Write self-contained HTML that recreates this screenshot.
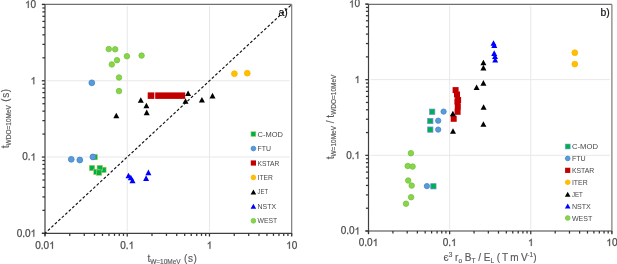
<!DOCTYPE html>
<html><head><meta charset="utf-8"><style>
html,body{margin:0;padding:0;background:#fff;width:617px;height:264px;overflow:hidden}
svg{display:block;will-change:transform}
text{font-family:"Liberation Sans",sans-serif}
.tk{font-size:10px;fill:#4d4d4d;stroke:#4d4d4d;stroke-width:0.25px}
.lg{font-size:7.8px;fill:#474747}
.pl{font-size:10.4px;fill:#111;stroke:#111;stroke-width:0.2px}
.tt{font-size:10px;fill:#595959;stroke:#595959;stroke-width:0.15px}
.sb{font-size:6.5px}
.sp{font-size:6.5px}
</style></head><body>
<svg width="617" height="264" viewBox="0 0 617 264">
<line x1="127.23" y1="5.90" x2="127.23" y2="231.30" stroke="#e8e8e8" stroke-width="1"/>
<line x1="47.00" y1="157.03" x2="289.70" y2="157.03" stroke="#e8e8e8" stroke-width="1"/>
<line x1="209.47" y1="5.90" x2="209.47" y2="231.30" stroke="#e8e8e8" stroke-width="1"/>
<line x1="47.00" y1="80.77" x2="289.70" y2="80.77" stroke="#e8e8e8" stroke-width="1"/>
<line x1="42.00" y1="4.40" x2="291.70" y2="4.40" stroke="#707070" stroke-width="1.1"/>
<line x1="291.70" y1="4.40" x2="291.70" y2="235.80" stroke="#707070" stroke-width="1.1"/>
<line x1="45.00" y1="4.40" x2="45.00" y2="235.80" stroke="#404040" stroke-width="1.2"/>
<line x1="42.00" y1="233.30" x2="291.70" y2="233.30" stroke="#404040" stroke-width="1.2"/>
<line x1="41.80" y1="233.30" x2="45.00" y2="233.30" stroke="#333" stroke-width="1.25"/>
<line x1="45.00" y1="233.30" x2="45.00" y2="236.50" stroke="#333" stroke-width="1.25"/>
<line x1="42.40" y1="210.34" x2="45.00" y2="210.34" stroke="#333" stroke-width="1.25"/>
<line x1="69.75" y1="233.30" x2="69.75" y2="235.90" stroke="#333" stroke-width="1.25"/>
<line x1="42.40" y1="196.91" x2="45.00" y2="196.91" stroke="#333" stroke-width="1.25"/>
<line x1="84.24" y1="233.30" x2="84.24" y2="235.90" stroke="#333" stroke-width="1.25"/>
<line x1="42.40" y1="187.38" x2="45.00" y2="187.38" stroke="#333" stroke-width="1.25"/>
<line x1="94.51" y1="233.30" x2="94.51" y2="235.90" stroke="#333" stroke-width="1.25"/>
<line x1="42.40" y1="179.99" x2="45.00" y2="179.99" stroke="#333" stroke-width="1.25"/>
<line x1="102.48" y1="233.30" x2="102.48" y2="235.90" stroke="#333" stroke-width="1.25"/>
<line x1="42.40" y1="173.95" x2="45.00" y2="173.95" stroke="#333" stroke-width="1.25"/>
<line x1="108.99" y1="233.30" x2="108.99" y2="235.90" stroke="#333" stroke-width="1.25"/>
<line x1="42.40" y1="168.85" x2="45.00" y2="168.85" stroke="#333" stroke-width="1.25"/>
<line x1="114.50" y1="233.30" x2="114.50" y2="235.90" stroke="#333" stroke-width="1.25"/>
<line x1="42.40" y1="164.42" x2="45.00" y2="164.42" stroke="#333" stroke-width="1.25"/>
<line x1="119.26" y1="233.30" x2="119.26" y2="235.90" stroke="#333" stroke-width="1.25"/>
<line x1="42.40" y1="160.52" x2="45.00" y2="160.52" stroke="#333" stroke-width="1.25"/>
<line x1="123.47" y1="233.30" x2="123.47" y2="235.90" stroke="#333" stroke-width="1.25"/>
<line x1="41.80" y1="157.03" x2="45.00" y2="157.03" stroke="#333" stroke-width="1.25"/>
<line x1="127.23" y1="233.30" x2="127.23" y2="236.50" stroke="#333" stroke-width="1.25"/>
<line x1="42.40" y1="134.07" x2="45.00" y2="134.07" stroke="#333" stroke-width="1.25"/>
<line x1="151.99" y1="233.30" x2="151.99" y2="235.90" stroke="#333" stroke-width="1.25"/>
<line x1="42.40" y1="120.64" x2="45.00" y2="120.64" stroke="#333" stroke-width="1.25"/>
<line x1="166.47" y1="233.30" x2="166.47" y2="235.90" stroke="#333" stroke-width="1.25"/>
<line x1="42.40" y1="111.12" x2="45.00" y2="111.12" stroke="#333" stroke-width="1.25"/>
<line x1="176.74" y1="233.30" x2="176.74" y2="235.90" stroke="#333" stroke-width="1.25"/>
<line x1="42.40" y1="103.73" x2="45.00" y2="103.73" stroke="#333" stroke-width="1.25"/>
<line x1="184.71" y1="233.30" x2="184.71" y2="235.90" stroke="#333" stroke-width="1.25"/>
<line x1="42.40" y1="97.69" x2="45.00" y2="97.69" stroke="#333" stroke-width="1.25"/>
<line x1="191.22" y1="233.30" x2="191.22" y2="235.90" stroke="#333" stroke-width="1.25"/>
<line x1="42.40" y1="92.58" x2="45.00" y2="92.58" stroke="#333" stroke-width="1.25"/>
<line x1="196.73" y1="233.30" x2="196.73" y2="235.90" stroke="#333" stroke-width="1.25"/>
<line x1="42.40" y1="88.16" x2="45.00" y2="88.16" stroke="#333" stroke-width="1.25"/>
<line x1="201.50" y1="233.30" x2="201.50" y2="235.90" stroke="#333" stroke-width="1.25"/>
<line x1="42.40" y1="84.26" x2="45.00" y2="84.26" stroke="#333" stroke-width="1.25"/>
<line x1="205.70" y1="233.30" x2="205.70" y2="235.90" stroke="#333" stroke-width="1.25"/>
<line x1="41.80" y1="80.77" x2="45.00" y2="80.77" stroke="#333" stroke-width="1.25"/>
<line x1="209.47" y1="233.30" x2="209.47" y2="236.50" stroke="#333" stroke-width="1.25"/>
<line x1="42.40" y1="57.81" x2="45.00" y2="57.81" stroke="#333" stroke-width="1.25"/>
<line x1="234.22" y1="233.30" x2="234.22" y2="235.90" stroke="#333" stroke-width="1.25"/>
<line x1="42.40" y1="44.38" x2="45.00" y2="44.38" stroke="#333" stroke-width="1.25"/>
<line x1="248.70" y1="233.30" x2="248.70" y2="235.90" stroke="#333" stroke-width="1.25"/>
<line x1="42.40" y1="34.85" x2="45.00" y2="34.85" stroke="#333" stroke-width="1.25"/>
<line x1="258.98" y1="233.30" x2="258.98" y2="235.90" stroke="#333" stroke-width="1.25"/>
<line x1="42.40" y1="27.46" x2="45.00" y2="27.46" stroke="#333" stroke-width="1.25"/>
<line x1="266.95" y1="233.30" x2="266.95" y2="235.90" stroke="#333" stroke-width="1.25"/>
<line x1="42.40" y1="21.42" x2="45.00" y2="21.42" stroke="#333" stroke-width="1.25"/>
<line x1="273.46" y1="233.30" x2="273.46" y2="235.90" stroke="#333" stroke-width="1.25"/>
<line x1="42.40" y1="16.31" x2="45.00" y2="16.31" stroke="#333" stroke-width="1.25"/>
<line x1="278.96" y1="233.30" x2="278.96" y2="235.90" stroke="#333" stroke-width="1.25"/>
<line x1="42.40" y1="11.89" x2="45.00" y2="11.89" stroke="#333" stroke-width="1.25"/>
<line x1="283.73" y1="233.30" x2="283.73" y2="235.90" stroke="#333" stroke-width="1.25"/>
<line x1="42.40" y1="7.99" x2="45.00" y2="7.99" stroke="#333" stroke-width="1.25"/>
<line x1="287.94" y1="233.30" x2="287.94" y2="235.90" stroke="#333" stroke-width="1.25"/>
<line x1="41.80" y1="4.50" x2="45.00" y2="4.50" stroke="#333" stroke-width="1.25"/>
<line x1="291.70" y1="233.30" x2="291.70" y2="236.50" stroke="#333" stroke-width="1.25"/>
<text x="16.64" y="236.70" class="tk">0</text>
<text x="22.20" y="236.70" class="tk">.</text>
<text x="24.98" y="236.70" class="tk">0</text>
<path d="M763 0H583V1147Q518 1085 412 1023T223 930V1104Q373 1175 485 1276T645 1472H763Z" transform="translate(30.54,236.70) scale(0.004883,-0.004883)" fill="#4d4d4d" stroke="#4d4d4d" stroke-width="51"/>
<text x="35.27" y="248.80" class="tk">0</text>
<text x="40.83" y="248.80" class="tk">.</text>
<text x="43.61" y="248.80" class="tk">0</text>
<path d="M763 0H583V1147Q518 1085 412 1023T223 930V1104Q373 1175 485 1276T645 1472H763Z" transform="translate(49.17,248.80) scale(0.004883,-0.004883)" fill="#4d4d4d" stroke="#4d4d4d" stroke-width="51"/>
<text x="22.20" y="160.43" class="tk">0</text>
<text x="27.76" y="160.43" class="tk">.</text>
<path d="M763 0H583V1147Q518 1085 412 1023T223 930V1104Q373 1175 485 1276T645 1472H763Z" transform="translate(30.54,160.43) scale(0.004883,-0.004883)" fill="#4d4d4d" stroke="#4d4d4d" stroke-width="51"/>
<text x="120.28" y="248.80" class="tk">0</text>
<text x="125.84" y="248.80" class="tk">.</text>
<path d="M763 0H583V1147Q518 1085 412 1023T223 930V1104Q373 1175 485 1276T645 1472H763Z" transform="translate(128.62,248.80) scale(0.004883,-0.004883)" fill="#4d4d4d" stroke="#4d4d4d" stroke-width="51"/>
<path d="M763 0H583V1147Q518 1085 412 1023T223 930V1104Q373 1175 485 1276T645 1472H763Z" transform="translate(30.54,84.17) scale(0.004883,-0.004883)" fill="#4d4d4d" stroke="#4d4d4d" stroke-width="51"/>
<path d="M763 0H583V1147Q518 1085 412 1023T223 930V1104Q373 1175 485 1276T645 1472H763Z" transform="translate(206.69,248.80) scale(0.004883,-0.004883)" fill="#4d4d4d" stroke="#4d4d4d" stroke-width="51"/>
<path d="M763 0H583V1147Q518 1085 412 1023T223 930V1104Q373 1175 485 1276T645 1472H763Z" transform="translate(24.98,7.90) scale(0.004883,-0.004883)" fill="#4d4d4d" stroke="#4d4d4d" stroke-width="51"/>
<text x="30.54" y="7.90" class="tk">0</text>
<path d="M763 0H583V1147Q518 1085 412 1023T223 930V1104Q373 1175 485 1276T645 1472H763Z" transform="translate(286.14,248.80) scale(0.004883,-0.004883)" fill="#4d4d4d" stroke="#4d4d4d" stroke-width="51"/>
<text x="291.70" y="248.80" class="tk">0</text>
<line x1="45.00" y1="233.30" x2="291.70" y2="4.50" stroke="#111" stroke-width="1.15" stroke-dasharray="2.8 1.96" stroke-dashoffset="0.86"/>
<rect x="147.7" y="92.4" width="6.6" height="6.5" fill="#c30000"/>
<rect x="155.2" y="92.4" width="30.0" height="6.5" fill="#c30000"/>
<rect x="91.98" y="154.38" width="5.45" height="5.45" fill="#00b050" stroke="#b8cf4a" stroke-width="0.55"/>
<rect x="89.28" y="165.28" width="5.45" height="5.45" fill="#00b050" stroke="#b8cf4a" stroke-width="0.55"/>
<rect x="100.68" y="167.18" width="5.45" height="5.45" fill="#00b050" stroke="#b8cf4a" stroke-width="0.55"/>
<rect x="97.08" y="165.28" width="5.45" height="5.45" fill="#00b050" stroke="#b8cf4a" stroke-width="0.55"/>
<rect x="93.68" y="169.18" width="5.45" height="5.45" fill="#00b050" stroke="#b8cf4a" stroke-width="0.55"/>
<rect x="96.28" y="169.88" width="5.45" height="5.45" fill="#00b050" stroke="#b8cf4a" stroke-width="0.55"/>
<circle cx="91.80" cy="82.80" r="2.90" fill="#5b9bd5" stroke="#3f86cf" stroke-width="0.8"/>
<circle cx="71.25" cy="159.30" r="2.90" fill="#5b9bd5" stroke="#3f86cf" stroke-width="0.8"/>
<circle cx="79.80" cy="160.00" r="2.90" fill="#5b9bd5" stroke="#3f86cf" stroke-width="0.8"/>
<circle cx="92.90" cy="156.90" r="2.90" fill="#5b9bd5" stroke="#3f86cf" stroke-width="0.8"/>
<circle cx="234.40" cy="73.70" r="2.90" fill="#ffc000" stroke="#ffb300" stroke-width="0.8"/>
<circle cx="247.30" cy="73.20" r="2.90" fill="#ffc000" stroke="#ffb300" stroke-width="0.8"/>
<path d="M116.30 112.70L119.30 118.30L113.30 118.30Z" fill="#000000"/>
<path d="M140.80 97.20L143.80 102.80L137.80 102.80Z" fill="#000000"/>
<path d="M146.40 102.70L149.40 108.30L143.40 108.30Z" fill="#000000"/>
<path d="M146.70 109.60L149.70 115.20L143.70 115.20Z" fill="#000000"/>
<path d="M188.10 90.40L191.10 96.00L185.10 96.00Z" fill="#000000"/>
<path d="M185.50 98.20L188.50 103.80L182.50 103.80Z" fill="#000000"/>
<path d="M201.90 96.90L204.90 102.50L198.90 102.50Z" fill="#000000"/>
<path d="M212.50 92.80L215.50 98.40L209.50 98.40Z" fill="#000000"/>
<path d="M128.50 172.70L131.50 178.30L125.50 178.30Z" fill="#0000ff"/>
<path d="M130.80 174.70L133.80 180.30L127.80 180.30Z" fill="#0000ff"/>
<path d="M132.50 177.60L135.50 183.20L129.50 183.20Z" fill="#0000ff"/>
<path d="M148.40 169.60L151.40 175.20L145.40 175.20Z" fill="#0000ff"/>
<path d="M146.10 175.30L149.10 180.90L143.10 180.90Z" fill="#0000ff"/>
<circle cx="108.75" cy="49.10" r="2.75" fill="#8ad44c" stroke="#6fc63a" stroke-width="0.8"/>
<circle cx="115.20" cy="49.30" r="2.75" fill="#8ad44c" stroke="#6fc63a" stroke-width="0.8"/>
<circle cx="126.90" cy="56.25" r="2.75" fill="#8ad44c" stroke="#6fc63a" stroke-width="0.8"/>
<circle cx="117.00" cy="60.20" r="2.75" fill="#8ad44c" stroke="#6fc63a" stroke-width="0.8"/>
<circle cx="111.80" cy="64.40" r="2.75" fill="#8ad44c" stroke="#6fc63a" stroke-width="0.8"/>
<circle cx="141.60" cy="55.60" r="2.75" fill="#8ad44c" stroke="#6fc63a" stroke-width="0.8"/>
<circle cx="119.00" cy="77.50" r="2.75" fill="#8ad44c" stroke="#6fc63a" stroke-width="0.8"/>
<circle cx="119.00" cy="91.10" r="2.75" fill="#8ad44c" stroke="#6fc63a" stroke-width="0.8"/>
<rect x="250.93" y="131.62" width="4.95" height="4.95" fill="#00b050" stroke="#c8d870" stroke-width="0.55"/>
<text x="257.60" y="136.60" class="lg" textLength="25.30" lengthAdjust="spacingAndGlyphs">C-MOD</text>
<circle cx="253.40" cy="148.55" r="2.35" fill="#5b9bd5" stroke="#3f86cf" stroke-width="0.8"/>
<text x="257.60" y="151.05" class="lg" textLength="13.40" lengthAdjust="spacingAndGlyphs">FTU</text>
<rect x="250.80" y="160.40" width="5.2" height="5.2" fill="#c30000"/>
<text x="257.60" y="165.50" class="lg" textLength="21.80" lengthAdjust="spacingAndGlyphs">KSTAR</text>
<circle cx="253.40" cy="177.45" r="2.35" fill="#ffc000" stroke="#ffb300" stroke-width="0.8"/>
<text x="257.60" y="179.95" class="lg" textLength="15.30" lengthAdjust="spacingAndGlyphs">ITER</text>
<path d="M253.40 189.40L256.20 194.40L250.60 194.40Z" fill="#000000"/>
<text x="257.60" y="194.40" class="lg" textLength="10.60" lengthAdjust="spacingAndGlyphs">JET</text>
<path d="M253.40 203.85L256.20 208.85L250.60 208.85Z" fill="#0000ff"/>
<text x="257.60" y="208.85" class="lg" textLength="18.40" lengthAdjust="spacingAndGlyphs">NSTX</text>
<circle cx="253.40" cy="220.80" r="2.35" fill="#8ad44c" stroke="#6fc63a" stroke-width="0.8"/>
<text x="257.60" y="223.30" class="lg" textLength="19.70" lengthAdjust="spacingAndGlyphs">WEST</text>
<text x="278.6" y="16.3" class="pl">a)</text>
<text x="147.4" y="261.6" class="tt">t<tspan class="sb" dy="2">W=10MeV</tspan><tspan dy="-2" letter-spacing="0.6"> (s)</tspan></text>
<text transform="translate(8.8,148.2) rotate(-90)" class="tt">t<tspan class="sb" dy="2">WDO=10MeV</tspan><tspan dy="-2" letter-spacing="0.6"> (s)</tspan></text>
<line x1="449.63" y1="5.90" x2="449.63" y2="229.00" stroke="#e8e8e8" stroke-width="1"/>
<line x1="370.50" y1="155.33" x2="609.90" y2="155.33" stroke="#e8e8e8" stroke-width="1"/>
<line x1="530.77" y1="5.90" x2="530.77" y2="229.00" stroke="#e8e8e8" stroke-width="1"/>
<line x1="370.50" y1="79.67" x2="609.90" y2="79.67" stroke="#e8e8e8" stroke-width="1"/>
<line x1="365.50" y1="4.40" x2="611.90" y2="4.40" stroke="#707070" stroke-width="1.1"/>
<line x1="611.90" y1="4.40" x2="611.90" y2="233.50" stroke="#707070" stroke-width="1.1"/>
<line x1="368.50" y1="4.40" x2="368.50" y2="233.50" stroke="#404040" stroke-width="1.2"/>
<line x1="365.50" y1="231.00" x2="611.90" y2="231.00" stroke="#404040" stroke-width="1.2"/>
<line x1="365.30" y1="231.00" x2="368.50" y2="231.00" stroke="#333" stroke-width="1.25"/>
<line x1="368.50" y1="231.00" x2="368.50" y2="234.20" stroke="#333" stroke-width="1.25"/>
<line x1="365.90" y1="208.22" x2="368.50" y2="208.22" stroke="#333" stroke-width="1.25"/>
<line x1="392.92" y1="231.00" x2="392.92" y2="233.60" stroke="#333" stroke-width="1.25"/>
<line x1="365.90" y1="194.90" x2="368.50" y2="194.90" stroke="#333" stroke-width="1.25"/>
<line x1="407.21" y1="231.00" x2="407.21" y2="233.60" stroke="#333" stroke-width="1.25"/>
<line x1="365.90" y1="185.44" x2="368.50" y2="185.44" stroke="#333" stroke-width="1.25"/>
<line x1="417.35" y1="231.00" x2="417.35" y2="233.60" stroke="#333" stroke-width="1.25"/>
<line x1="365.90" y1="178.11" x2="368.50" y2="178.11" stroke="#333" stroke-width="1.25"/>
<line x1="425.21" y1="231.00" x2="425.21" y2="233.60" stroke="#333" stroke-width="1.25"/>
<line x1="365.90" y1="172.12" x2="368.50" y2="172.12" stroke="#333" stroke-width="1.25"/>
<line x1="431.63" y1="231.00" x2="431.63" y2="233.60" stroke="#333" stroke-width="1.25"/>
<line x1="365.90" y1="167.05" x2="368.50" y2="167.05" stroke="#333" stroke-width="1.25"/>
<line x1="437.07" y1="231.00" x2="437.07" y2="233.60" stroke="#333" stroke-width="1.25"/>
<line x1="365.90" y1="162.67" x2="368.50" y2="162.67" stroke="#333" stroke-width="1.25"/>
<line x1="441.77" y1="231.00" x2="441.77" y2="233.60" stroke="#333" stroke-width="1.25"/>
<line x1="365.90" y1="158.80" x2="368.50" y2="158.80" stroke="#333" stroke-width="1.25"/>
<line x1="445.92" y1="231.00" x2="445.92" y2="233.60" stroke="#333" stroke-width="1.25"/>
<line x1="365.30" y1="155.33" x2="368.50" y2="155.33" stroke="#333" stroke-width="1.25"/>
<line x1="449.63" y1="231.00" x2="449.63" y2="234.20" stroke="#333" stroke-width="1.25"/>
<line x1="365.90" y1="132.56" x2="368.50" y2="132.56" stroke="#333" stroke-width="1.25"/>
<line x1="474.06" y1="231.00" x2="474.06" y2="233.60" stroke="#333" stroke-width="1.25"/>
<line x1="365.90" y1="119.23" x2="368.50" y2="119.23" stroke="#333" stroke-width="1.25"/>
<line x1="488.34" y1="231.00" x2="488.34" y2="233.60" stroke="#333" stroke-width="1.25"/>
<line x1="365.90" y1="109.78" x2="368.50" y2="109.78" stroke="#333" stroke-width="1.25"/>
<line x1="498.48" y1="231.00" x2="498.48" y2="233.60" stroke="#333" stroke-width="1.25"/>
<line x1="365.90" y1="102.44" x2="368.50" y2="102.44" stroke="#333" stroke-width="1.25"/>
<line x1="506.34" y1="231.00" x2="506.34" y2="233.60" stroke="#333" stroke-width="1.25"/>
<line x1="365.90" y1="96.45" x2="368.50" y2="96.45" stroke="#333" stroke-width="1.25"/>
<line x1="512.77" y1="231.00" x2="512.77" y2="233.60" stroke="#333" stroke-width="1.25"/>
<line x1="365.90" y1="91.39" x2="368.50" y2="91.39" stroke="#333" stroke-width="1.25"/>
<line x1="518.20" y1="231.00" x2="518.20" y2="233.60" stroke="#333" stroke-width="1.25"/>
<line x1="365.90" y1="87.00" x2="368.50" y2="87.00" stroke="#333" stroke-width="1.25"/>
<line x1="522.90" y1="231.00" x2="522.90" y2="233.60" stroke="#333" stroke-width="1.25"/>
<line x1="365.90" y1="83.13" x2="368.50" y2="83.13" stroke="#333" stroke-width="1.25"/>
<line x1="527.05" y1="231.00" x2="527.05" y2="233.60" stroke="#333" stroke-width="1.25"/>
<line x1="365.30" y1="79.67" x2="368.50" y2="79.67" stroke="#333" stroke-width="1.25"/>
<line x1="530.77" y1="231.00" x2="530.77" y2="234.20" stroke="#333" stroke-width="1.25"/>
<line x1="365.90" y1="56.89" x2="368.50" y2="56.89" stroke="#333" stroke-width="1.25"/>
<line x1="555.19" y1="231.00" x2="555.19" y2="233.60" stroke="#333" stroke-width="1.25"/>
<line x1="365.90" y1="43.56" x2="368.50" y2="43.56" stroke="#333" stroke-width="1.25"/>
<line x1="569.48" y1="231.00" x2="569.48" y2="233.60" stroke="#333" stroke-width="1.25"/>
<line x1="365.90" y1="34.11" x2="368.50" y2="34.11" stroke="#333" stroke-width="1.25"/>
<line x1="579.61" y1="231.00" x2="579.61" y2="233.60" stroke="#333" stroke-width="1.25"/>
<line x1="365.90" y1="26.78" x2="368.50" y2="26.78" stroke="#333" stroke-width="1.25"/>
<line x1="587.48" y1="231.00" x2="587.48" y2="233.60" stroke="#333" stroke-width="1.25"/>
<line x1="365.90" y1="20.79" x2="368.50" y2="20.79" stroke="#333" stroke-width="1.25"/>
<line x1="593.90" y1="231.00" x2="593.90" y2="233.60" stroke="#333" stroke-width="1.25"/>
<line x1="365.90" y1="15.72" x2="368.50" y2="15.72" stroke="#333" stroke-width="1.25"/>
<line x1="599.33" y1="231.00" x2="599.33" y2="233.60" stroke="#333" stroke-width="1.25"/>
<line x1="365.90" y1="11.33" x2="368.50" y2="11.33" stroke="#333" stroke-width="1.25"/>
<line x1="604.04" y1="231.00" x2="604.04" y2="233.60" stroke="#333" stroke-width="1.25"/>
<line x1="365.90" y1="7.46" x2="368.50" y2="7.46" stroke="#333" stroke-width="1.25"/>
<line x1="608.19" y1="231.00" x2="608.19" y2="233.60" stroke="#333" stroke-width="1.25"/>
<line x1="365.30" y1="4.00" x2="368.50" y2="4.00" stroke="#333" stroke-width="1.25"/>
<line x1="611.90" y1="231.00" x2="611.90" y2="234.20" stroke="#333" stroke-width="1.25"/>
<text x="340.64" y="234.40" class="tk">0</text>
<text x="346.20" y="234.40" class="tk">.</text>
<text x="348.98" y="234.40" class="tk">0</text>
<path d="M763 0H583V1147Q518 1085 412 1023T223 930V1104Q373 1175 485 1276T645 1472H763Z" transform="translate(354.54,234.40) scale(0.004883,-0.004883)" fill="#4d4d4d" stroke="#4d4d4d" stroke-width="51"/>
<text x="358.77" y="246.00" class="tk">0</text>
<text x="364.33" y="246.00" class="tk">.</text>
<text x="367.11" y="246.00" class="tk">0</text>
<path d="M763 0H583V1147Q518 1085 412 1023T223 930V1104Q373 1175 485 1276T645 1472H763Z" transform="translate(372.67,246.00) scale(0.004883,-0.004883)" fill="#4d4d4d" stroke="#4d4d4d" stroke-width="51"/>
<text x="346.20" y="158.73" class="tk">0</text>
<text x="351.76" y="158.73" class="tk">.</text>
<path d="M763 0H583V1147Q518 1085 412 1023T223 930V1104Q373 1175 485 1276T645 1472H763Z" transform="translate(354.54,158.73) scale(0.004883,-0.004883)" fill="#4d4d4d" stroke="#4d4d4d" stroke-width="51"/>
<text x="442.68" y="246.00" class="tk">0</text>
<text x="448.24" y="246.00" class="tk">.</text>
<path d="M763 0H583V1147Q518 1085 412 1023T223 930V1104Q373 1175 485 1276T645 1472H763Z" transform="translate(451.02,246.00) scale(0.004883,-0.004883)" fill="#4d4d4d" stroke="#4d4d4d" stroke-width="51"/>
<path d="M763 0H583V1147Q518 1085 412 1023T223 930V1104Q373 1175 485 1276T645 1472H763Z" transform="translate(354.54,83.07) scale(0.004883,-0.004883)" fill="#4d4d4d" stroke="#4d4d4d" stroke-width="51"/>
<path d="M763 0H583V1147Q518 1085 412 1023T223 930V1104Q373 1175 485 1276T645 1472H763Z" transform="translate(527.99,246.00) scale(0.004883,-0.004883)" fill="#4d4d4d" stroke="#4d4d4d" stroke-width="51"/>
<path d="M763 0H583V1147Q518 1085 412 1023T223 930V1104Q373 1175 485 1276T645 1472H763Z" transform="translate(348.98,7.40) scale(0.004883,-0.004883)" fill="#4d4d4d" stroke="#4d4d4d" stroke-width="51"/>
<text x="354.54" y="7.40" class="tk">0</text>
<path d="M763 0H583V1147Q518 1085 412 1023T223 930V1104Q373 1175 485 1276T645 1472H763Z" transform="translate(606.34,246.00) scale(0.004883,-0.004883)" fill="#4d4d4d" stroke="#4d4d4d" stroke-width="51"/>
<text x="611.90" y="246.00" class="tk">0</text>
<rect x="429.55" y="109.05" width="5.30" height="5.30" fill="#00b050" stroke="#6a8fe0" stroke-width="0.7"/>
<rect x="427.65" y="118.35" width="5.30" height="5.30" fill="#00b050" stroke="#6a8fe0" stroke-width="0.7"/>
<rect x="427.65" y="126.95" width="5.30" height="5.30" fill="#00b050" stroke="#6a8fe0" stroke-width="0.7"/>
<rect x="430.75" y="183.65" width="5.30" height="5.30" fill="#00b050" stroke="#6a8fe0" stroke-width="0.7"/>
<circle cx="443.60" cy="111.60" r="2.65" fill="#5b9bd5" stroke="#3f86cf" stroke-width="0.8"/>
<circle cx="438.20" cy="120.70" r="2.65" fill="#5b9bd5" stroke="#3f86cf" stroke-width="0.8"/>
<circle cx="438.20" cy="129.60" r="2.65" fill="#5b9bd5" stroke="#3f86cf" stroke-width="0.8"/>
<circle cx="426.90" cy="186.10" r="2.65" fill="#5b9bd5" stroke="#3f86cf" stroke-width="0.8"/>
<rect x="452.60" y="87.10" width="6.0" height="6.0" fill="#c30000"/>
<rect x="454.00" y="91.50" width="6.0" height="6.0" fill="#c30000"/>
<rect x="455.10" y="97.00" width="6.0" height="6.0" fill="#c30000"/>
<rect x="454.40" y="98.50" width="6.0" height="6.0" fill="#c30000"/>
<rect x="454.80" y="103.50" width="6.0" height="6.0" fill="#c30000"/>
<rect x="454.60" y="108.80" width="6.0" height="6.0" fill="#c30000"/>
<rect x="450.70" y="115.80" width="6.0" height="6.0" fill="#c30000"/>
<path d="M452.90 110.70L455.90 116.30L449.90 116.30Z" fill="#000000"/>
<path d="M453.00 128.20L456.00 133.80L450.00 133.80Z" fill="#000000"/>
<path d="M483.40 59.70L486.40 65.30L480.40 65.30Z" fill="#000000"/>
<path d="M483.40 64.80L486.40 70.40L480.40 70.40Z" fill="#000000"/>
<path d="M483.40 80.10L486.40 85.70L480.40 85.70Z" fill="#000000"/>
<path d="M476.60 84.40L479.60 90.00L473.60 90.00Z" fill="#000000"/>
<path d="M483.60 104.20L486.60 109.80L480.60 109.80Z" fill="#000000"/>
<path d="M483.40 121.20L486.40 126.80L480.40 126.80Z" fill="#000000"/>
<path d="M493.50 40.20L496.50 45.80L490.50 45.80Z" fill="#0000ff"/>
<path d="M494.30 42.40L497.30 48.00L491.30 48.00Z" fill="#0000ff"/>
<path d="M494.20 50.30L497.20 55.90L491.20 55.90Z" fill="#0000ff"/>
<path d="M495.00 53.40L498.00 59.00L492.00 59.00Z" fill="#0000ff"/>
<path d="M495.20 57.00L498.20 62.60L492.20 62.60Z" fill="#0000ff"/>
<circle cx="574.80" cy="52.70" r="2.90" fill="#ffc000" stroke="#ffb300" stroke-width="0.8"/>
<circle cx="574.80" cy="64.10" r="2.90" fill="#ffc000" stroke="#ffb300" stroke-width="0.8"/>
<circle cx="410.90" cy="153.20" r="2.75" fill="#8ad44c" stroke="#6fc63a" stroke-width="0.8"/>
<circle cx="407.70" cy="166.00" r="2.75" fill="#8ad44c" stroke="#6fc63a" stroke-width="0.8"/>
<circle cx="412.60" cy="166.60" r="2.75" fill="#8ad44c" stroke="#6fc63a" stroke-width="0.8"/>
<circle cx="408.20" cy="180.50" r="2.75" fill="#8ad44c" stroke="#6fc63a" stroke-width="0.8"/>
<circle cx="411.70" cy="185.60" r="2.75" fill="#8ad44c" stroke="#6fc63a" stroke-width="0.8"/>
<circle cx="411.10" cy="197.20" r="2.75" fill="#8ad44c" stroke="#6fc63a" stroke-width="0.8"/>
<circle cx="406.00" cy="203.70" r="2.75" fill="#8ad44c" stroke="#6fc63a" stroke-width="0.8"/>
<rect x="565.23" y="144.03" width="4.95" height="4.95" fill="#00b050" stroke="#7a9ae0" stroke-width="0.55"/>
<text x="571.90" y="149.00" class="lg" textLength="26.06" lengthAdjust="spacingAndGlyphs">C-MOD</text>
<circle cx="567.70" cy="158.42" r="2.35" fill="#5b9bd5" stroke="#3f86cf" stroke-width="0.8"/>
<text x="571.90" y="160.92" class="lg" textLength="13.80" lengthAdjust="spacingAndGlyphs">FTU</text>
<rect x="565.10" y="167.74" width="5.2" height="5.2" fill="#c30000"/>
<text x="571.90" y="172.84" class="lg" textLength="22.45" lengthAdjust="spacingAndGlyphs">KSTAR</text>
<circle cx="567.70" cy="182.26" r="2.35" fill="#ffc000" stroke="#ffb300" stroke-width="0.8"/>
<text x="571.90" y="184.76" class="lg" textLength="15.76" lengthAdjust="spacingAndGlyphs">ITER</text>
<path d="M567.70 191.68L570.50 196.68L564.90 196.68Z" fill="#000000"/>
<text x="571.90" y="196.68" class="lg" textLength="10.92" lengthAdjust="spacingAndGlyphs">JET</text>
<path d="M567.70 203.60L570.50 208.60L564.90 208.60Z" fill="#0000ff"/>
<text x="571.90" y="208.60" class="lg" textLength="18.95" lengthAdjust="spacingAndGlyphs">NSTX</text>
<circle cx="567.70" cy="218.02" r="2.35" fill="#8ad44c" stroke="#6fc63a" stroke-width="0.8"/>
<text x="571.90" y="220.52" class="lg" textLength="20.29" lengthAdjust="spacingAndGlyphs">WEST</text>
<text x="600.5" y="16.3" class="pl">b)</text>
<text x="443.6" y="261.0" class="tt">&#1108;<tspan class="sp" dy="-4">3</tspan><tspan dy="4"> r</tspan><tspan class="sb" dy="2">o</tspan><tspan dy="-2"> B</tspan><tspan class="sb" dy="2">T</tspan><tspan dy="-2"> / E</tspan><tspan class="sb" dy="2">L</tspan><tspan dy="-2" letter-spacing="-0.25"> ( T m V</tspan><tspan class="sp" dy="-4">-1</tspan><tspan dy="4">)</tspan></text>
<text transform="translate(334,159.3) rotate(-90)" class="tt">t<tspan class="sb" dy="2">W=10MeV</tspan><tspan dy="-2"> / t</tspan><tspan class="sb" dy="2">WDO=10MeV</tspan></text>
</svg>
</body></html>
